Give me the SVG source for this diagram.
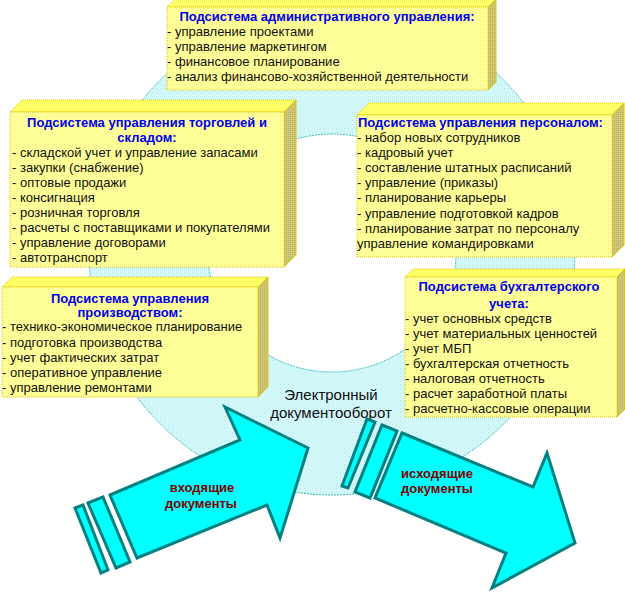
<svg xmlns="http://www.w3.org/2000/svg" width="625" height="592" viewBox="0 0 625 592">
<defs>
<pattern id="dots" width="4" height="4" patternUnits="userSpaceOnUse">
<rect width="4" height="4" fill="#d2f8fa"/>
<rect x="0" y="0" width="1" height="1" fill="#b4e6ea"/>
<rect x="2" y="2" width="1" height="1" fill="#c4eef1"/>
</pattern>
<pattern id="ydots" width="4" height="4" patternUnits="userSpaceOnUse">
<rect width="4" height="4" fill="#ffff99"/>
<rect x="0" y="0" width="1" height="1" fill="#f4f080"/>
</pattern>
<pattern id="sdots" width="2" height="2" patternUnits="userSpaceOnUse">
<rect width="2" height="2" fill="#cfc77a"/>
<rect x="0" y="0" width="1" height="1" fill="#b8b060"/>
</pattern>
<style>
.front{fill:url(#ydots);stroke:#e2c400;stroke-width:1;stroke-dasharray:1 1}
.top{fill:#ffff66;stroke:#e2c400;stroke-width:1;stroke-dasharray:1 1}
.side{fill:url(#sdots);stroke:#e2c400;stroke-width:1}
text{font-family:"Liberation Sans",Arial,sans-serif;font-size:13px}
.title{font-weight:bold;fill:#0000ee}
.item{fill:#111}
.mid{text-anchor:middle}
.arrow{fill:#00ffff;stroke:#008080;stroke-width:3;stroke-linejoin:miter}
.alabel{font-weight:bold;fill:#800000;text-anchor:middle}
.center{font-size:15px;fill:#111;text-anchor:middle}
</style>
</defs>

<g id="ring">
<path d="M332,9 A243,243 0 1,1 331.9,9 Z M332,134 A124,119 0 1,0 332.1,134 Z" fill="url(#dots)" fill-rule="evenodd" stroke="#3cbcc6" stroke-width="1" stroke-dasharray="2 1"/>
</g>

<g id="box-admin">
<polygon class="top" points="167,7 175,-1 496,-1 488,7"/>
<polygon class="side" points="488,7 496,-1 496,82 488,90"/>
<rect class="front" x="167" y="7" width="321" height="83"/>
<text class="title mid" x="327" y="20.5">Подсистема административного управления:</text>
<text class="item" x="167" y="36">- управление проектами</text>
<text class="item" x="167" y="51">- управление маркетингом</text>
<text class="item" x="167" y="66">- финансовое планирование</text>
<text class="item" x="167" y="81">- анализ финансово-хозяйственной деятельности</text>
</g>

<g id="box-trade">
<polygon class="top" points="10,112 22,100 296,100 284,112"/>
<polygon class="side" points="284,112 296,100 296,255 284,267"/>
<rect class="front" x="10" y="112" width="274" height="155"/>
<text class="title mid" x="147" y="126.5">Подсистема управления торговлей и</text>
<text class="title mid" x="147" y="141.5">складом:</text>
<text class="item" x="12" y="156.5">- складской учет и управление запасами</text>
<text class="item" x="12" y="171.5">- закупки (снабжение)</text>
<text class="item" x="12" y="186.5">- оптовые продажи</text>
<text class="item" x="12" y="201.5">- консигнация</text>
<text class="item" x="12" y="216.5">- розничная торговля</text>
<text class="item" x="12" y="231.5">- расчеты с поставщиками и покупателями</text>
<text class="item" x="12" y="246.5">- управление договорами</text>
<text class="item" x="12" y="261.5">- автотранспорт</text>
</g>

<g id="box-staff">
<polygon class="top" points="357,115 369,103 624,103 612,115"/>
<polygon class="side" points="612,115 624,103 624,245 612,257"/>
<rect class="front" x="357" y="115" width="255" height="142"/>
<text class="title" x="358" y="126.5">Подсистема управления персоналом:</text>
<text class="item" x="357" y="141.5">- набор новых сотрудников</text>
<text class="item" x="357" y="156.7">- кадровый учет</text>
<text class="item" x="357" y="171.9">- составление штатных расписаний</text>
<text class="item" x="357" y="187.1">- управление (приказы)</text>
<text class="item" x="357" y="202.3">- планирование карьеры</text>
<text class="item" x="357" y="217.5">- управление подготовкой кадров</text>
<text class="item" x="357" y="232.7">- планирование затрат по персоналу</text>
<text class="item" x="357" y="247.9">управление командировками</text>
</g>

<g id="box-production">
<polygon class="top" points="2,287 12,277 268,277 258,287"/>
<polygon class="side" points="258,287 268,277 268,387 258,397"/>
<rect class="front" x="2" y="287" width="256" height="110"/>
<text class="title mid" x="130" y="302.5">Подсистема управления</text>
<text class="title mid" x="130" y="316.5">производством:</text>
<text class="item" x="2" y="331">- технико-экономическое планирование</text>
<text class="item" x="2" y="346.5">- подготовка производства</text>
<text class="item" x="2" y="361.5">- учет фактических затрат</text>
<text class="item" x="2" y="376.5">- оперативное управление</text>
<text class="item" x="2" y="392">- управление ремонтами</text>
</g>

<g id="box-accounting">
<polygon class="top" points="405,277 413,269 625,269 617,277"/>
<polygon class="side" points="617,277 625,269 625,409 617,417"/>
<rect class="front" x="405" y="277" width="212" height="140"/>
<text class="title mid" x="509" y="291">Подсистема бухгалтерского</text>
<text class="title mid" x="509" y="307.5">учета:</text>
<text class="item" x="405" y="323">- учет основных средств</text>
<text class="item" x="405" y="338">- учет материальных ценностей</text>
<text class="item" x="405" y="353">- учет МБП</text>
<text class="item" x="405" y="368">- бухгалтерская отчетность</text>
<text class="item" x="405" y="383">- налоговая отчетность</text>
<text class="item" x="405" y="398">- расчет заработной платы</text>
<text class="item" x="405" y="413">- расчетно-кассовые операции</text>
</g>

<g id="center-label">
<text class="center" x="331" y="400">Электронный</text>
<text class="center" x="331" y="418">документооборот</text>
</g>

<g id="connectors">
<g id="arrow-in">
<polygon class="arrow" points="75,508 83,505 108,570 101,573"/>
<polygon class="arrow" points="88,503 103,497 130,562 116,568"/>
<polygon class="arrow" points="110,495 240,440 225,407 308,448 280,538 267,505 137,558"/>
<text class="alabel" x="202" y="491.5">входящие</text>
<text class="alabel" x="201" y="507.5">документы</text>
</g>
<g id="arrow-out">
<polygon class="arrow" points="367,419 375,422 348,488 342,486"/>
<polygon class="arrow" points="382,425 397,431 370,498 355,492"/>
<polygon class="arrow" points="402,433 533,487 547,453 575,543 492,588 506,553 375,498"/>
<text class="alabel" x="437" y="477.5">исходящие</text>
<text class="alabel" x="437" y="492.5">документы</text>
</g>
</g>
</svg>
